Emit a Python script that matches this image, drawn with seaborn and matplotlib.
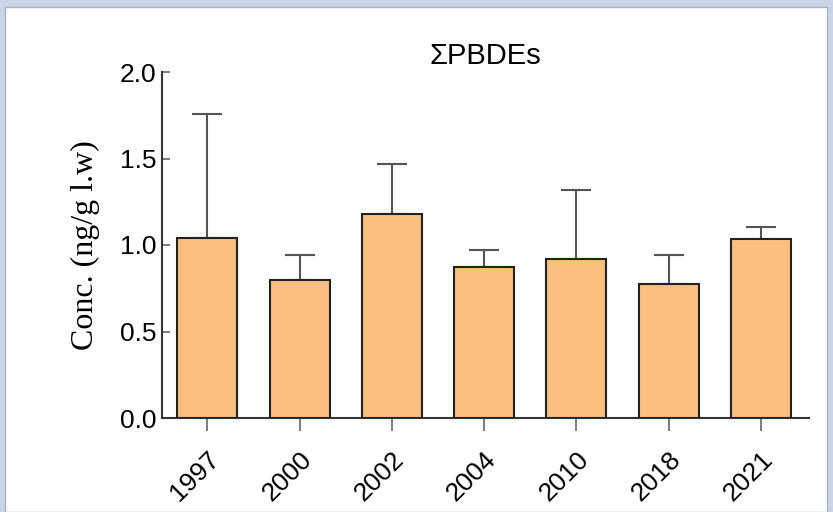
import matplotlib
matplotlib.use("Agg")
import matplotlib.pyplot as plt
import matplotlib.patches as patches
import matplotlib.transforms as mtransforms
import numpy as np
import pandas as pd
import seaborn as sns

years = ["1997", "2000", "2002", "2004", "2010", "2018", "2021"]
conc = [1.04, 0.80, 1.18, 0.875, 0.92, 0.775, 1.035]
upper = [1.76, 0.945, 1.47, 0.97, 1.32, 0.945, 1.105]
y_ticks = [0.0, 0.5, 1.0, 1.5, 2.0]

df = pd.DataFrame({"Year": years, "Conc": conc})
err_up = np.array(upper) - np.array(conc)

sns.set_theme(style="ticks")
plt.rcParams['font.family'] = ['Liberation Sans', 'DejaVu Sans']
plt.rcParams['text.color'] = 'black'
plt.rcParams['xtick.labelcolor'] = 'black'
plt.rcParams['ytick.labelcolor'] = 'black'

fig = plt.figure(figsize=(8.33, 5.12), dpi=100)
fig.patch.set_facecolor("#c9d5e4")
# white panel like the screenshot
fig.patches.append(patches.Rectangle((5 / 833, 0), 822 / 833, 505 / 512,
                                     transform=fig.transFigure, facecolor="white",
                                     edgecolor="#a9b4c2", linewidth=1.0, zorder=-5))

ax = fig.add_axes([162 / 833, 94 / 512, 647 / 833, 346 / 512])
ax.set_zorder(2)
ax.set_facecolor("none")

sns.barplot(data=df, x="Year", y="Conc", color="#fdbf80", width=0.65,
            edgecolor="#222222", linewidth=1.5, errorbar=None, saturation=1, ax=ax, zorder=3)

ax.errorbar(np.arange(len(years)), conc, yerr=[np.zeros(len(years)), err_up],
            fmt="none", ecolor="#555555", elinewidth=1.5, capsize=11, capthick=1.5, zorder=2)

ax.set_ylim(0, 2.0)
ax.set_xlim(-0.49, 6.52)
ax.set_yticks(y_ticks)
ax.set_yticklabels([f"{v:.1f}" for v in y_ticks], fontsize=19)
ax.set_xticks(range(len(years)))
ax.set_xticklabels(years, rotation=45, ha="right", rotation_mode="anchor", fontsize=19)
shift = mtransforms.ScaledTranslation(10 / 100, 0, fig.dpi_scale_trans)
for lbl in ax.get_xticklabels():
    lbl.set_transform(lbl.get_transform() + shift)

for s in ["top", "right"]:
    ax.spines[s].set_visible(False)
for s in ["left", "bottom"]:
    ax.spines[s].set_color("#333333")
    ax.spines[s].set_linewidth(1.5)
ax.tick_params(axis="y", direction="in", length=6, width=1.2, color="#666666", pad=4)
ax.tick_params(axis="x", length=9, width=1.2, color="#666666", pad=12)

ax.set_xlabel("")
ax.set_ylabel("Conc. (ng/g l.w)", family=["Liberation Serif", "DejaVu Serif"], fontsize=23,
              labelpad=14, color="black")
ax.set_title("ΣPBDEs", fontsize=21, pad=6, x=0.5, color="black")

fig.savefig("out.png", dpi=100, facecolor=fig.get_facecolor())
